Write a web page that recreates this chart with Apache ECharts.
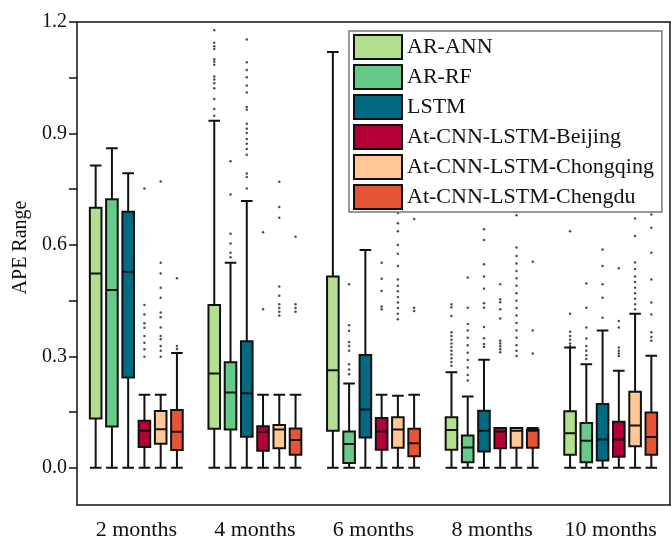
<!DOCTYPE html>
<html>
<head>
<meta charset="utf-8">
<script src="https://cdn.jsdelivr.net/npm/echarts@6/dist/echarts.min.js"></script>
<style>
  html, body { margin: 0; padding: 0; background: #fff; }
  #main { width: 671px; height: 541px; }
</style>
</head>
<body>
<div id="main"></div>
<script>
// categories and series
var categories = ['2 months', '4 months', '6 months', '8 months', '10 months'];
var seriesNames = ['AR-ANN', 'AR-RF', 'LSTM', 'At-CNN-LSTM-Beijing', 'At-CNN-LSTM-Chongqing', 'At-CNN-LSTM-Chengdu'];
var colors = ['#B3DF8E', '#66CB88', '#006A82', '#B50037', '#FFC796', '#E65436'];

// box values per category: [min, Q1, median, Q3, max]
var annBoxes = [
  [0, 0.133, 0.523, 0.700, 0.814],
  [0, 0.105, 0.254, 0.438, 0.934],
  [0, 0.100, 0.263, 0.515, 1.119],
  [0, 0.049, 0.102, 0.136, 0.257],
  [0, 0.035, 0.093, 0.152, 0.324]
];
var rfBoxes = [
  [0, 0.111, 0.479, 0.723, 0.860],
  [0, 0.103, 0.203, 0.284, 0.552],
  [0, 0.013, 0.064, 0.098, 0.227],
  [0, 0.015, 0.055, 0.087, 0.192],
  [0, 0.015, 0.073, 0.121, 0.279]
];
var lstmBoxes = [
  [0, 0.243, 0.528, 0.689, 0.793],
  [0, 0.084, 0.201, 0.341, 0.718],
  [0, 0.082, 0.157, 0.304, 0.586],
  [0, 0.044, 0.100, 0.154, 0.291],
  [0, 0.020, 0.076, 0.172, 0.370]
];
var beijingBoxes = [
  [0, 0.056, 0.100, 0.127, 0.197],
  [0, 0.046, 0.097, 0.112, 0.197],
  [0, 0.049, 0.098, 0.134, 0.197],
  [0, 0.053, 0.098, 0.107, 0.107],
  [0, 0.030, 0.076, 0.124, 0.261]
];
var chongqingBoxes = [
  [0, 0.065, 0.104, 0.153, 0.197],
  [0, 0.053, 0.103, 0.115, 0.197],
  [0, 0.054, 0.103, 0.136, 0.194],
  [0, 0.054, 0.100, 0.107, 0.107],
  [0, 0.058, 0.114, 0.205, 0.415]
];
var chengduBoxes = [
  [0, 0.048, 0.097, 0.156, 0.309],
  [0, 0.035, 0.075, 0.106, 0.197],
  [0, 0.031, 0.066, 0.105, 0.197],
  [0, 0.054, 0.100, 0.103, 0.107],
  [0, 0.035, 0.083, 0.149, 0.302]
];

// outliers: [category index, value]
var annOut = [
  [1, 1.178], [1, 1.144], [1, 1.135], [1, 1.127], [1, 1.100], [1, 1.093], [1, 1.085], [1, 1.053],
  [1, 1.045], [1, 1.035], [1, 1.022], [1, 0.993], [1, 0.966], [1, 0.948],
  [3, 0.700], [3, 0.440], [3, 0.432], [3, 0.409], [3, 0.365], [3, 0.355], [3, 0.345], [3, 0.335],
  [3, 0.325], [3, 0.315], [3, 0.305], [3, 0.295], [3, 0.285], [3, 0.275],
  [4, 0.637], [4, 0.415], [4, 0.366], [4, 0.355], [4, 0.345], [4, 0.335], [4, 0.328]
];
var rfOut = [
  [1, 0.825], [1, 0.736], [1, 0.630], [1, 0.604], [1, 0.579], [1, 0.567],
  [2, 0.494], [2, 0.384], [2, 0.369], [2, 0.339], [2, 0.328], [2, 0.315], [2, 0.279], [2, 0.265], [2, 0.252],
  [3, 0.512], [3, 0.431], [3, 0.387], [3, 0.370], [3, 0.350], [3, 0.330], [3, 0.310], [3, 0.290],
  [3, 0.270], [3, 0.250], [3, 0.235],
  [4, 0.496], [4, 0.431], [4, 0.378], [4, 0.348], [4, 0.328], [4, 0.315], [4, 0.303], [4, 0.293]
];
var lstmOut = [
  [1, 1.153], [1, 1.092], [1, 1.071], [1, 1.051], [1, 1.029], [1, 1.010], [1, 0.971], [1, 0.964],
  [1, 0.926], [1, 0.913], [1, 0.901], [1, 0.885], [1, 0.872], [1, 0.858], [1, 0.843], [1, 0.792],
  [1, 0.783], [1, 0.752],
  [3, 0.642], [3, 0.613], [3, 0.548], [3, 0.515], [3, 0.482], [3, 0.443], [3, 0.431], [3, 0.379],
  [3, 0.349], [3, 0.333], [3, 0.325],
  [4, 0.588], [4, 0.543], [4, 0.494], [4, 0.458], [4, 0.404]
];
var beijingOut = [
  [0, 0.752], [0, 0.438], [0, 0.413], [0, 0.389], [0, 0.377], [0, 0.355], [0, 0.337], [0, 0.319], [0, 0.299],
  [1, 0.634], [1, 0.427],
  [2, 0.552], [2, 0.509], [2, 0.476], [2, 0.434], [2, 0.427],
  [3, 0.494], [3, 0.454], [3, 0.446], [3, 0.427], [3, 0.402], [3, 0.342], [3, 0.335], [3, 0.327],
  [3, 0.319], [3, 0.311],
  [4, 0.537], [4, 0.395], [4, 0.378], [4, 0.324], [4, 0.315], [4, 0.308], [4, 0.301]
];
var chongqingOut = [
  [0, 0.771], [0, 0.552], [0, 0.523], [0, 0.485], [0, 0.458], [0, 0.418], [0, 0.405], [0, 0.378],
  [0, 0.355], [0, 0.346], [0, 0.328], [0, 0.315], [0, 0.299],
  [1, 0.770], [1, 0.702], [1, 0.673], [1, 0.488], [1, 0.463], [1, 0.440], [1, 0.430], [1, 0.420], [1, 0.410],
  [2, 0.686], [2, 0.658], [2, 0.637], [2, 0.600], [2, 0.576], [2, 0.543], [2, 0.507], [2, 0.490],
  [2, 0.475], [2, 0.460], [2, 0.445], [2, 0.430], [2, 0.415], [2, 0.400],
  [3, 0.690], [3, 0.680], [3, 0.593], [3, 0.570], [3, 0.550], [3, 0.530], [3, 0.510], [3, 0.490],
  [3, 0.470], [3, 0.450], [3, 0.430], [3, 0.410], [3, 0.390], [3, 0.370], [3, 0.350], [3, 0.330],
  [3, 0.315], [3, 0.301],
  [4, 0.671], [4, 0.624], [4, 0.553], [4, 0.535], [4, 0.515], [4, 0.500], [4, 0.485], [4, 0.470],
  [4, 0.455], [4, 0.440], [4, 0.427]
];
var chengduOut = [
  [0, 0.510], [0, 0.328], [0, 0.320],
  [1, 0.622], [1, 0.440], [1, 0.430], [1, 0.420],
  [2, 0.670], [2, 0.431], [2, 0.422],
  [3, 0.555], [3, 0.370], [3, 0.308],
  [4, 0.697], [4, 0.682], [4, 0.646], [4, 0.579], [4, 0.507], [4, 0.445], [4, 0.413], [4, 0.365],
  [4, 0.352], [4, 0.342]
];

// tick labels
var yLabelValues = [0, 0.3, 0.6, 0.9, 1.2];
var yTickValues = [0, 0.15, 0.3, 0.45, 0.6, 0.75, 0.9, 1.05, 1.2];

var allBoxes = [annBoxes, rfBoxes, lstmBoxes, beijingBoxes, chongqingBoxes, chengduBoxes];
var allOut = [annOut, rfOut, lstmOut, beijingOut, chongqingOut, chengduOut];

var FONT = "'Liberation Serif', 'Times New Roman', serif";
var chart = echarts.init(document.getElementById('main'));

var gridLeft = 77, gridRight = 1;
// same offsets echarts uses to place boxes side by side in a band
var band = (chart.getWidth() - gridLeft - gridRight) / categories.length;
var n = seriesNames.length;
var avail = band * 0.8 - 2;
var gap = avail / n * 0.3;
var bw = (avail - gap * (n - 1)) / n;

var series = [];
seriesNames.forEach(function (name, i) {
  series.push({
    name: name,
    type: 'boxplot',
    data: allBoxes[i],
    itemStyle: { color: colors[i], borderColor: '#111', borderWidth: 2 },
    silent: true
  });
});
seriesNames.forEach(function (name, i) {
  series.push({
    name: name + ' outliers',
    type: 'scatter',
    data: allOut[i],
    symbol: 'circle',
    symbolSize: 2.5,
    symbolOffset: [bw / 2 - avail / 2 + i * (gap + bw), 0],
    itemStyle: { color: '#222' },
    silent: true
  });
});

var option = {
  animation: false,
  backgroundColor: '#fff',
  textStyle: { fontFamily: FONT },
  grid: { left: gridLeft, right: gridRight, top: 22, bottom: 35 },
  legend: {
    data: seriesNames.map(function (name, i) {
      return { name: name, itemStyle: { color: colors[i], borderColor: '#111', borderWidth: 2 } };
    }),
    orient: 'vertical',
    left: 349,
    top: 31,
    icon: 'rect',
    itemWidth: 48,
    itemHeight: 24,
    itemGap: 4,
    padding: [3, 8, 2, 4],
    backgroundColor: '#fff',
    borderColor: '#777',
    borderWidth: 1.5,
    textStyle: { fontFamily: FONT, fontSize: 22, color: '#111' }
  },
  xAxis: [{
    type: 'category',
    data: categories,
    axisLine: { onZero: false, lineStyle: { color: '#111', width: 1.5 } },
    axisTick: { alignWithLabel: true, length: 6, lineStyle: { color: '#111', width: 1.5 } },
    axisLabel: { interval: 0, fontFamily: FONT, fontSize: 22, color: '#111', margin: 14 },
    splitLine: { show: false }
  }, {
    type: 'category',
    data: categories,
    position: 'top',
    axisLine: { onZero: false, lineStyle: { color: '#111', width: 1.5 } },
    axisTick: { show: false },
    axisLabel: { show: false }
  }],
  yAxis: [{
    type: 'value',
    min: -0.1,
    max: 1.2,
    name: 'APE Range',
    nameLocation: 'middle',
    nameGap: 46,
    nameTextStyle: { fontFamily: FONT, fontSize: 20, color: '#111', padding: [0, 0, 0, 32] },
    axisLine: { show: true, lineStyle: { color: '#111', width: 1.5 } },
    axisTick: { show: true, length: 8, customValues: yTickValues, lineStyle: { color: '#111', width: 1.5 } },
    axisLabel: {
      fontFamily: FONT, fontSize: 20, color: '#111', margin: 10,
      customValues: yLabelValues,
      formatter: function (v) { return v.toFixed(1); }
    },
    splitLine: { show: false }
  }, {
    type: 'value',
    min: -0.1,
    max: 1.2,
    position: 'right',
    axisLine: { show: true, lineStyle: { color: '#111', width: 1.5 } },
    axisTick: { show: false },
    axisLabel: { show: false },
    splitLine: { show: false }
  }],
  series: series
};

chart.setOption(option);
</script>
</body>
</html>
